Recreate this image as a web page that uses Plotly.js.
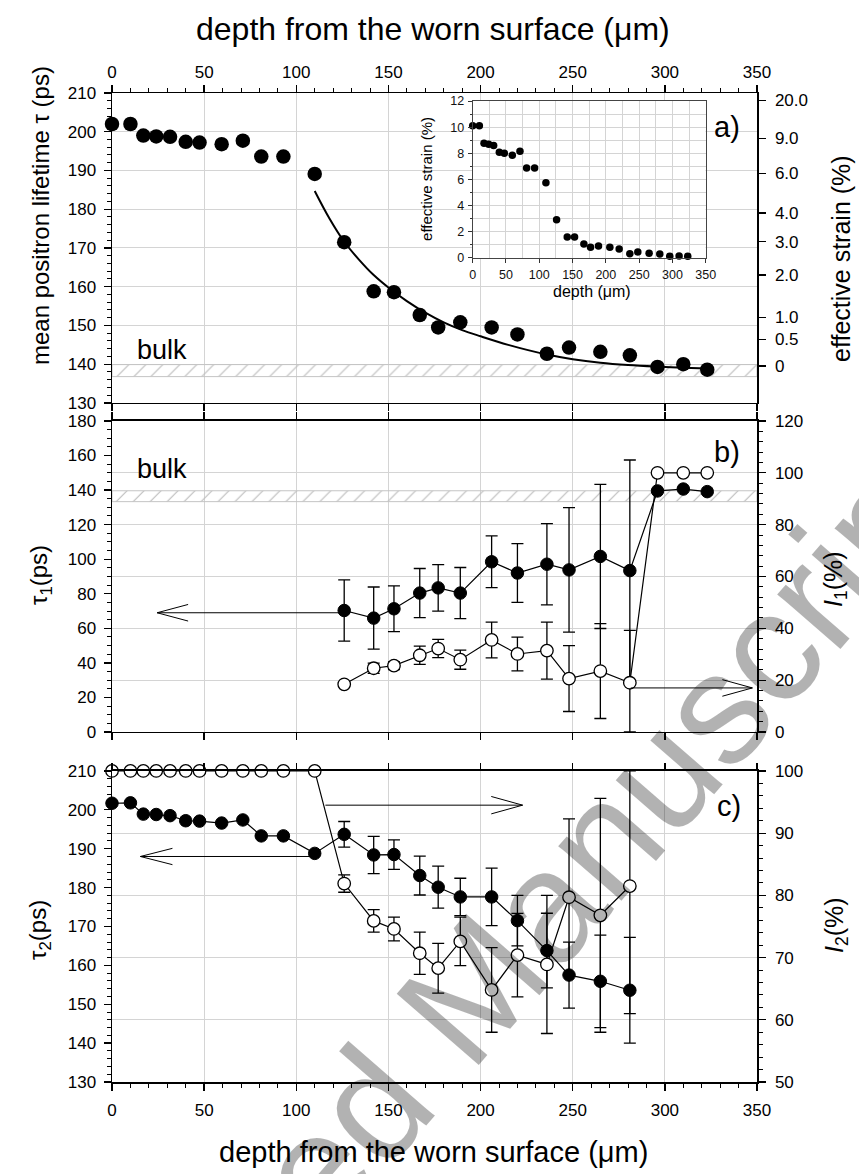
<!DOCTYPE html>
<html><head><meta charset="utf-8">
<script src="https://cdn.plot.ly/plotly-3.0.1.min.js"></script>
<style>html,body{margin:0;padding:0;background:#fff}#chart{width:859px;height:1174px}</style>
</head><body><div id="chart"></div>
<script>
// ---------- data ----------
const depth = [0, 10, 17, 24, 31.5, 40, 47.5, 59.5, 71, 81, 93, 110, 126, 142, 153, 167, 177, 189, 206, 220, 236, 248, 265, 281, 296, 310, 323];
const meanTau = [202.0, 202.0, 199.0, 198.8, 198.7, 197.4, 197.2, 196.8, 197.7, 193.6, 193.6, 189.1, 171.5, 158.8, 158.6, 152.7, 149.5, 150.8, 149.5, 147.7, 142.7, 144.3, 143.2, 142.3, 139.3, 140.0, 138.6];
const strain = [10.1, 10.1, 8.77, 8.7, 8.6, 8.08, 8.0, 7.85, 8.15, 6.88, 6.88, 5.76, 2.93, 1.6, 1.6, 1.07, 0.82, 0.92, 0.82, 0.69, 0.33, 0.46, 0.36, 0.3, 0.13, 0.15, 0.13];
const fitDepth = [110, 118, 126, 134, 142, 151, 160, 170, 180, 190, 200, 215, 236, 250, 265, 280, 295, 310, 323];
const fitTau = [184.7, 177.6, 171.6, 167.0, 163.0, 159.4, 156.3, 153.3, 150.8, 148.8, 147.2, 145.0, 142.5, 141.3, 140.4, 139.8, 139.4, 139.1, 138.9];

const depthB = [126, 142, 153, 167, 177, 189, 206, 220, 236, 248, 265, 281, 296, 310, 323];
const tau1 = [70.3, 65.9, 71.3, 80.4, 83.4, 80.4, 98.5, 92.0, 97.1, 93.8, 101.6, 93.4, 139.5, 140.6, 139.1];
const tau1Err = [17.7, 18, 13.2, 14.2, 13.5, 14.8, 15, 17, 23.5, 36, 41.7, 64, NaN, NaN, NaN];
const int1 = [18.4, 24.6, 25.6, 29.6, 32.2, 27.9, 35.5, 30.1, 31.4, 20.6, 23.5, 19.0, 100, 100, 100];
const int1ErrPlus = [NaN, 2, 1.5, 3.5, 3.5, 3.7, 6.9, 6.5, 11, 12.7, 18.3, 20.2, NaN, NaN, NaN];
const int1ErrMinus = [NaN, 2, 1.5, 3.5, 3.5, 3.7, 6.9, 6.5, 11, 12.7, 18.3, 19.0, NaN, NaN, NaN];

const depthC = [0, 10, 17, 24, 31.5, 40, 47.5, 59.5, 71, 81, 93, 110, 126, 142, 153, 167, 177, 189, 206, 220, 236, 248, 265, 281];
const tau2 = [201.7, 201.8, 198.9, 198.8, 198.5, 197.2, 197.1, 196.6, 197.4, 193.3, 193.3, 188.8, 193.7, 188.4, 188.5, 183.1, 180.1, 177.6, 177.6, 171.5, 163.8, 157.5, 155.9, 153.6];
const tau2Err = [NaN, NaN, NaN, NaN, NaN, NaN, NaN, NaN, NaN, NaN, NaN, NaN, 3.3, 4.8, 3.8, 5.0, 5.4, 4.8, 7.4, 6.5, 9.6, 8.5, 11.9, 13.6];
const int2 = [100, 100, 100, 100, 100, 100, 100, 100, 100, 100, 100, 100, 81.9, 75.9, 74.6, 70.7, 68.3, 72.6, 64.8, 70.4, 68.9, 79.7, 76.8, 81.5];
const int2ErrPlus = [NaN, NaN, NaN, NaN, NaN, NaN, NaN, NaN, NaN, NaN, NaN, NaN, 1.4, 1.8, 1.9, 3.4, 4.0, 3.9, 6.8, 6.7, 11.1, 12.6, 18.8, 18.5];
const int2ErrMinus = [NaN, NaN, NaN, NaN, NaN, NaN, NaN, NaN, NaN, NaN, NaN, NaN, 1.4, 1.8, 1.9, 3.4, 4.0, 3.9, 6.8, 6.7, 11.1, 12.6, 18.8, 20.5];

// right-hand "effective strain" scale of panel a (tick positions in lifetime units)
const strainTickPos = [208.1, 198.3, 189.3, 179.0, 171.6, 163.0, 152.1, 146.4, 139.5];
const strainTickText = ['20.0', '9.0', '6.0', '4.0', '3.0', '2.0', '1.0', '0.5', '0'];
// bulk lifetime bands
const bulkA = [136.8, 139.9];
const bulkB = [133.3, 139.6];
const bandX = [0, 350, 350, 0, 0];

// ---------- styling ----------
const FONT = '"Liberation Sans", Arial, Helvetica, sans-serif';
const K = '#000';
const GRID = '#d4d4d4';
const tickFont = {family: FONT, size: 17, color: K};

function band(lohi, xa, ya) {
  return {x: bandX, y: [lohi[0], lohi[0], lohi[1], lohi[1], lohi[0]], xaxis: xa, yaxis: ya,
    mode: 'lines', fill: 'toself', line: {color: '#c4c4c4', width: 1},
    fillcolor: 'rgba(255,255,255,0)',
    fillpattern: {shape: '/', fgcolor: '#bdbdbd', bgcolor: 'rgba(255,255,255,0)', size: 12, solidity: 0.1},
    hoverinfo: 'skip', showlegend: false};
}
function errBar(plus, minus) {
  return {type: 'data', array: plus, arrayminus: minus || plus, symmetric: !minus, visible: true,
    color: K, thickness: 1.3, width: 6};
}
const filled = {size: 12.5, color: K, line: {color: K, width: 1}};
const open = {size: 12.5, color: '#fff', line: {color: K, width: 1.3}};

const traces = [
  band(bulkA, 'x', 'y'),
  {x: fitDepth, y: fitTau, xaxis: 'x', yaxis: 'y', mode: 'lines', line: {color: K, width: 2, shape: 'spline', smoothing: 1}, hoverinfo: 'skip'},
  {x: depth, y: meanTau, xaxis: 'x', yaxis: 'y', mode: 'markers', marker: {size: 14.5, color: K}, cliponaxis: false},
  {x: [0], y: [130], xaxis: 'x', yaxis: 'y2', mode: 'markers', marker: {opacity: 0}, hoverinfo: 'skip'},
  {x: [0], y: [130], xaxis: 'x5', yaxis: 'y', mode: 'markers', marker: {opacity: 0}, hoverinfo: 'skip'},

  band(bulkB, 'x2', 'y3'),
  {x: depthB, y: tau1, xaxis: 'x2', yaxis: 'y3', mode: 'lines+markers', line: {color: K, width: 1.2},
    marker: filled, error_y: errBar(tau1Err), cliponaxis: false},
  {x: depthB, y: int1, xaxis: 'x2', yaxis: 'y4', mode: 'lines+markers', line: {color: K, width: 1.2},
    marker: open, error_y: errBar(int1ErrPlus, int1ErrMinus), cliponaxis: false},

  {x: depthC, y: tau2, xaxis: 'x3', yaxis: 'y5', mode: 'lines+markers', line: {color: K, width: 1.2},
    marker: filled, error_y: errBar(tau2Err), cliponaxis: false},
  {x: depthC, y: int2, xaxis: 'x3', yaxis: 'y6', mode: 'lines+markers', line: {color: K, width: 1.2},
    marker: open, error_y: errBar(int2ErrPlus, int2ErrMinus), cliponaxis: false},
  {x: [0], y: [130], xaxis: 'x6', yaxis: 'y5', mode: 'markers', marker: {opacity: 0}, hoverinfo: 'skip'},

  {x: depth, y: strain, xaxis: 'x4', yaxis: 'y7', mode: 'markers', marker: {size: 7.5, color: K}, cliponaxis: false}
];
traces.forEach(t => { t.showlegend = false; });

const dA = [0.6866, 1], dB = [0.3539, 0.6684], dC = [0, 0.3145];
const baseX = {range: [0, 350], dtick: 50, tick0: 0, zeroline: false, fixedrange: true,
  ticks: 'outside', ticklen: 7, tickwidth: 1.3, tickcolor: K, tickfont: tickFont};
const baseY = {zeroline: false, fixedrange: true, ticks: 'outside', ticklen: 7, tickwidth: 1.3, tickcolor: K,
  tickfont: tickFont, showline: true, linecolor: K, linewidth: 1.5};
const minorX = {dtick: 10, ticks: 'outside', ticklen: 4, tickwidth: 1, tickcolor: K, showgrid: false};

const layout = {
  width: 859, height: 1174, margin: {l: 112, r: 102, t: 93, b: 92, pad: 0},
  paper_bgcolor: '#fff', plot_bgcolor: 'rgba(0,0,0,0)', showlegend: false,
  font: {family: FONT, size: 17, color: K},
  // panel a
  xaxis: Object.assign({}, baseX, {domain: [0, 1], anchor: 'y', side: 'top', showline: true, mirror: true,
    linecolor: K, linewidth: 1.5, showgrid: true, gridcolor: GRID, gridwidth: 1, minor: minorX, ticklabelstandoff: 0}),
  xaxis5: Object.assign({}, baseX, {overlaying: 'x', anchor: 'y', side: 'bottom', showticklabels: false, showgrid: false, showline: false}),
  yaxis: Object.assign({}, baseY, {domain: dA, anchor: 'x', range: [130, 210], dtick: 10, showgrid: true, gridcolor: GRID, gridwidth: 1,
    minor: {dtick: 2, ticks: 'outside', ticklen: 4, tickwidth: 1, tickcolor: K}, ticklabelstandoff: 4}),
  yaxis2: Object.assign({}, baseY, {overlaying: 'y', anchor: 'x', side: 'right', range: [130, 210],
    tickmode: 'array', tickvals: strainTickPos, ticktext: strainTickText, showgrid: false, ticklabelstandoff: 6}),
  // panel b
  xaxis2: Object.assign({}, baseX, {domain: [0, 1], anchor: 'y3', showticklabels: false, showline: true, mirror: 'ticks',
    linecolor: K, linewidth: 1.5, showgrid: true, gridcolor: GRID, gridwidth: 1}),
  yaxis3: Object.assign({}, baseY, {domain: dB, anchor: 'x2', range: [0, 180], dtick: 20, showgrid: false,
    minor: {dtick: 5, ticks: 'outside', ticklen: 4, tickwidth: 1, tickcolor: K}, ticklabelstandoff: 4}),
  yaxis4: Object.assign({}, baseY, {overlaying: 'y3', anchor: 'x2', side: 'right', range: [0, 120], dtick: 20,
    showgrid: true, gridcolor: GRID, gridwidth: 1,
    minor: {dtick: 4, ticks: 'outside', ticklen: 4, tickwidth: 1, tickcolor: K}, ticklabelstandoff: 6}),
  // panel c
  xaxis3: Object.assign({}, baseX, {domain: [0, 1], anchor: 'y5', side: 'bottom', showline: true, mirror: true,
    linecolor: K, linewidth: 1.5, showgrid: true, gridcolor: GRID, gridwidth: 1, minor: minorX, ticklabelstandoff: 5}),
  xaxis6: Object.assign({}, baseX, {overlaying: 'x3', anchor: 'y5', side: 'top', showticklabels: false, showgrid: false, showline: false}),
  yaxis5: Object.assign({}, baseY, {domain: dC, anchor: 'x3', range: [130, 210], dtick: 10, showgrid: false,
    minor: {dtick: 2, ticks: 'outside', ticklen: 4, tickwidth: 1, tickcolor: K}, ticklabelstandoff: 4}),
  yaxis6: Object.assign({}, baseY, {overlaying: 'y5', anchor: 'x3', side: 'right', range: [50, 100], dtick: 10,
    showgrid: true, gridcolor: GRID, gridwidth: 1,
    minor: {dtick: 2, ticks: 'outside', ticklen: 4, tickwidth: 1, tickcolor: K}, ticklabelstandoff: 6}),
  // inset
  xaxis4: {domain: [0.5592, 0.9205], anchor: 'y7', range: [0, 350], dtick: 50, tick0: 0, zeroline: false, fixedrange: true,
    ticks: 'outside', ticklen: 4, tickwidth: 1, tickcolor: '#333', showline: true, mirror: true, linecolor: '#444', linewidth: 1,
    showgrid: true, gridcolor: GRID, gridwidth: 1, minor: {dtick: 25, showgrid: true, gridcolor: GRID, gridwidth: 1},
    tickfont: {family: FONT, size: 12.5, color: '#111'}, ticklabelstandoff: 1},
  yaxis7: {domain: [0.8332, 0.9919], anchor: 'x4', range: [0, 12], dtick: 2, zeroline: false, fixedrange: true,
    ticks: 'outside', ticklen: 4, tickwidth: 1, tickcolor: '#333', showline: true, mirror: true, linecolor: '#444', linewidth: 1,
    showgrid: true, gridcolor: GRID, gridwidth: 1,
    minor: {dtick: 1, showgrid: true, gridcolor: GRID, gridwidth: 1, ticks: 'outside', ticklen: 2, tickcolor: '#333'},
    tickfont: {family: FONT, size: 12.5, color: '#111'}, ticklabelstandoff: 1},
  shapes: [
    {type: 'rect', xref: 'x4', yref: 'y7', x0: 0, x1: 350, y0: 0, y1: 12, fillcolor: '#fff', line: {width: 0}, layer: 'below'}
  ],
  annotations: []
};

// arrows (open heads drawn as two strokes)
function arrow(xref, yref, x0, tip, y, hx, hy) {
  const ln = {color: K, width: 1};
  layout.shapes.push({type: 'line', xref, yref, x0: x0, x1: tip, y0: y, y1: y, line: ln});
  layout.shapes.push({type: 'line', xref, yref, x0: tip, y0: y, x1: tip + hx, y1: y + hy, line: ln});
  layout.shapes.push({type: 'line', xref, yref, x0: tip, y0: y, x1: tip + hx, y1: y - hy, line: ln});
}
arrow('x2', 'y3', 126, 24.5, 69, 16.8, 4.8);
arrow('x2', 'y4', 281.5, 347.5, 17.0, -16.3, 3.2);
arrow('x3', 'y5', 110, 15.4, 188.0, 17.4, 2.1);
arrow('x3', 'y6', 115.8, 222.8, 94.5, -17.0, 1.4);

function ann(text, x, y, size, opts) {
  layout.annotations.push(Object.assign({text, x, y, xref: 'paper', yref: 'paper', showarrow: false,
    xanchor: 'center', yanchor: 'middle', font: {family: FONT, size, color: K}}, opts || {}));
}
ann('depth from the worn surface (\u03bcm)', 0.4977, 1.0652, 32);
ann('depth from the worn surface (\u03bcm)', 0.4977, -0.0708, 29);
ann('mean positron lifetime \u03c4 (ps)', -0.1116, 0.8756, 24, {textangle: -90});
ann('\u03c4<sub>1</sub>(ps)', -0.1116, 0.5126, 24, {textangle: -90});
ann('\u03c4<sub>2</sub>(ps)', -0.1116, 0.1537, 24, {textangle: -90});
ann('effective strain (%)', 1.1302, 0.8332, 25, {textangle: -90});
ann('<i>I</i><sub>1</sub>(%)', 1.1209, 0.5086, 25, {textangle: -90});
ann('<i>I</i><sub>2</sub>(%)', 1.1225, 0.1587, 25, {textangle: -90});
ann('a)', 0.9535, 0.9656, 29);
ann('b)', 0.9535, 0.637, 29);
ann('c)', 0.9566, 0.2791, 29);
ann('bulk', 0.0357, 0.7401, 27, {xanchor: 'left'});
ann('bulk', 0.0357, 0.6198, 27, {xanchor: 'left'});
ann('effective strain (%)', 0.4884, 0.9131, 15, {textangle: -90});
ann('depth (\u03bcm)', 0.7442, 0.7988, 16);
// manuscript watermark
layout.annotations.push({text: 'Accepted Manuscript', x: 0.5271, y: 0.0708, xref: 'paper', yref: 'paper',
  showarrow: false, xanchor: 'center', yanchor: 'middle', textangle: -49,
  font: {family: FONT, size: 158, color: 'rgba(0,0,0,0.3)'}});

Plotly.newPlot('chart', traces, layout, {staticPlot: true, displayModeBar: false});
</script>
</body></html>
